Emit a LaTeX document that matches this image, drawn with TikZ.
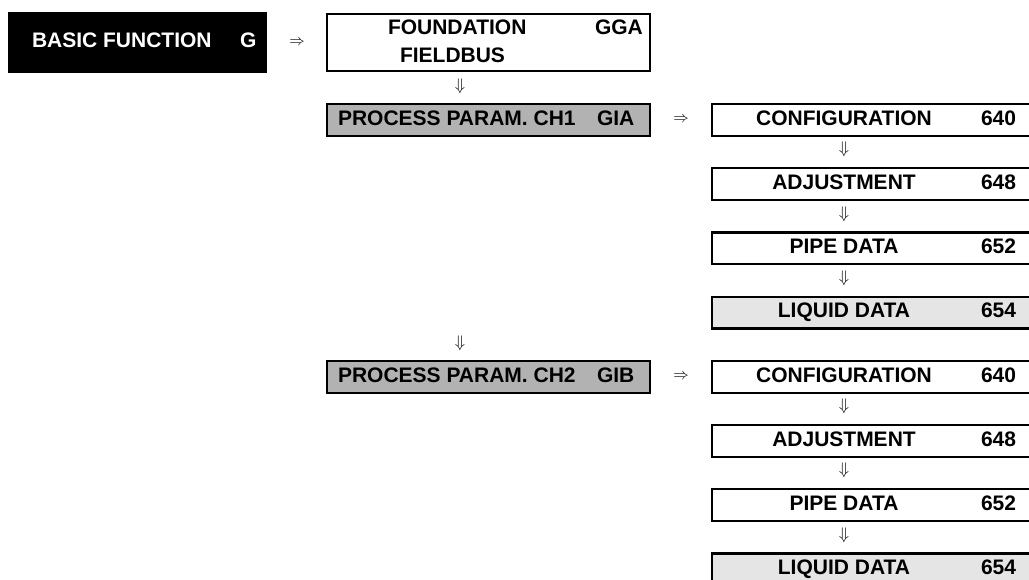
\RequirePackage{fix-cm}
\documentclass[tikz,border=0pt]{standalone}
\usepackage{fontspec}
\setmainfont{Liberation Sans}
\usetikzlibrary{calc}

\tikzset{
  panel/.style={rectangle, draw=black, line width=2.2pt, inner sep=0pt, outer sep=0pt,
    anchor=north west, minimum height=31.8pt},
  lbl/.style={inner sep=0pt, outer sep=0pt, anchor=base west,
    font=\fontsize{21}{25}\selectfont\bfseries},
  rarr/.style={inner sep=0pt, outer sep=0pt, font=\fontsize{15.5}{18}\selectfont},
  darr/.style={inner sep=0pt, outer sep=0pt, font=\fontsize{16.8}{20}\selectfont},
}

\begin{document}
\begin{tikzpicture}[x=1pt, y=-1pt]
  \clip (0,0) rectangle (1029,579);
  \useasboundingbox (0,0) rectangle (1029,579);

  % top level entry
  \node[rectangle, fill=black, inner sep=0pt, outer sep=0pt, anchor=north west,
        minimum width=259pt, minimum height=61pt] (basic) at (8,12) {};
  \node[lbl, text=white] (basicT) at (32,47.5) {BASIC FUNCTION};
  \node[lbl, text=white] (basicG) at (240,47.5) {G};

  % fieldbus block
  \node[panel, minimum width=322.8pt, minimum height=56.8pt] (found) at (327.1,14.1) {};
  \node[lbl] (foundT) at (388,34) {FOUNDATION};
  \node[lbl] (foundC) at (595,34) {GGA};
  \node[lbl] (foundT2) at (400,62) {FIELDBUS};

  % process parameter groups
  \node[panel, fill=black!30, minimum width=322.8pt] (ch1) at (327.1,104.1) {};
  \node[lbl] (ch1T) at (338,125.3) {PROCESS PARAM. CH1};
  \node[lbl] (ch1C) at (597,125.3) {GIA};

  \node[panel, fill=black!30, minimum width=322.8pt] (ch2) at (327.1,360.9) {};
  \node[lbl] (ch2T) at (338,382.1) {PROCESS PARAM. CH2};
  \node[lbl] (ch2C) at (597,382.1) {GIB};

  % parameter pages of both channels
  \foreach \i/\t/\n/\f in {0/CONFIGURATION/640/white, 1/ADJUSTMENT/648/white,
      2/PIPE DATA/652/white, 3/LIQUID DATA/654/black!10,
      4/CONFIGURATION/640/white, 5/ADJUSTMENT/648/white,
      6/PIPE DATA/652/white, 7/LIQUID DATA/654/black!10}{
    \pgfmathsetmacro\rowy{104.1+64.2*\i}
    \node[panel, fill=\f, minimum width=340pt] (r\i) at (712.1,\rowy) {};
    \node[lbl, anchor=base] (rt\i) at (844,\rowy+21.2) {\t};
    \node[lbl] (rn\i) at (981,\rowy+21.2) {\n};
  }

  % horizontal arrows
  \node[rarr] (a1) at ($(basic.east)!0.5!(found.west)$) {$\Rightarrow$};
  \node[rarr] (a2) at ($(ch1.east)!0.5!(r0.west)$) {$\Rightarrow$};
  \node[rarr] (a3) at ($(ch2.east)!0.5!(r4.west)$) {$\Rightarrow$};

  % vertical arrows, left column
  \coordinate (lx) at (460,0);
  \coordinate (m1) at ($(found.south)!0.5!(ch1.north)$);
  \coordinate (m2) at ($(r3.south)!0.5!(r4.north)$);
  \node[darr] (d1) at ([yshift=1.5pt]m1 -| lx) {$\Downarrow$};
  \node[darr] (d2) at ([yshift=1.5pt]m2 -| lx) {$\Downarrow$};

  % vertical arrows, right column
  \foreach \i/\j in {0/1, 1/2, 2/3, 4/5, 5/6, 6/7}{
    \coordinate (g\i) at ($(r\i.south)!0.5!(r\j.north)$);
    \node[darr] (dr\i) at ([yshift=2.5pt]g\i -| rt\i) {$\Downarrow$};
  }
\end{tikzpicture}
\end{document}
